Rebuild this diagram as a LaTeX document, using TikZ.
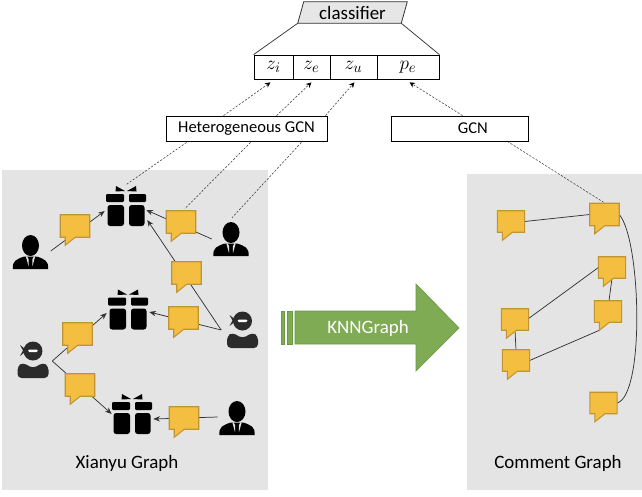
\documentclass[tikz,border=0pt]{standalone}
\usepackage{fontspec}
\setmainfont{Carlito}
\usetikzlibrary{calc,arrows.meta}
\pgfdeclarelayer{panels}
\pgfdeclarelayer{edges}
\pgfsetlayers{panels,edges,main}
\definecolor{panelgray}{HTML}{E4E4E4}
\definecolor{bubfill}{HTML}{F4BE41}
\definecolor{bubline}{HTML}{BE9437}
\definecolor{arrowgreen}{HTML}{7FAB55}
\definecolor{arrowline}{HTML}{6A9A44}
\definecolor{ninjagray}{HTML}{2B2B2B}
\definecolor{lidgray}{HTML}{E7E6E6}
\tikzset{
  panel/.style={fill=panelgray,draw=none},
  lab/.style={inner sep=0pt,font=\fontsize{14.2pt}{16pt}\selectfont},
  bigl/.style={lab},
  cellbox/.style={draw=black,line width=0.6pt,fill=white,inner sep=0pt,minimum height=18pt,font=\fontsize{15.5pt}{17pt}\selectfont},
  gcnbox/.style={draw=black,line width=0.6pt,fill=white,inner sep=0pt,minimum height=18.75pt,font=\fontsize{12.4pt}{14pt}\selectfont},
  bubA/.style={inner sep=0pt,minimum width=21.75pt,minimum height=16.5pt},
  bubB/.style={inner sep=0pt,minimum width=20pt,minimum height=15.75pt},
  bubbody/.style={fill=bubfill,draw=bubline,line width=0.8pt},
  iconbox/.style={inner sep=0pt,minimum width=27pt,minimum height=25.5pt},
  giftbox/.style={inner sep=0pt,minimum width=30pt,minimum height=30pt},
  link/.style={draw=black!80,line width=0.55pt},
  arr/.style={link,-{Stealth[length=5pt,width=4pt]}},
  dashline/.style={draw=black!80,line width=0.4pt,dash pattern=on 1.6pt off 1.2pt},
  dasharr/.style={dashline,-{Stealth[length=4pt,width=4pt,fill=black,color=black]}},
}
% speech bubble: name, x, y, style
\newcommand{\bub}[4]{%
  \node[#4] (#1) at (#2,#3) {};
  \draw[bubbody] (#1.north west) -- (#1.north east) -- (#1.south east)
    -- ($(#1.south west)+(15,0)$) -- ($(#1.south west)+(5,8)$) -- ($(#1.south west)+(5,0)$)
    -- (#1.south west) -- cycle;}
\newcommand{\gift}[3]{%
  \node[giftbox] (#1) at (#2,#3) {};
  \begin{scope}[shift={(#2,#3)}]
    \fill[black,rounded corners=0.8pt] (-20,-12) rectangle (-2,-4);
    \fill[black,rounded corners=0.8pt] (3,-12) rectangle (20,-4);
    \fill[black,rounded corners=2pt] (-18.5,-1) -- (-2,-1) -- (-2,5) -- (-2,20) -- (-18.5,20) -- cycle;
    \fill[black,rounded corners=2pt] (3,-1) -- (18.5,-1) -- (18.5,20) -- (3,20) -- cycle;
    \fill[black] (-10,-20) -- (-1,-15) -- (-10.5,-14.5) -- cycle;
    \fill[black] (10,-20) -- (1,-15) -- (10.5,-14.5) -- cycle;
  \end{scope}}
\newcommand{\person}[3]{%
  \node[iconbox] (#1) at (#2,#3) {};
  \begin{scope}[shift={(#2,#3)}]
    \fill[black] (0,-6.5) ellipse [x radius=8.5,y radius=10.5];
    \fill[black] (-17.5,17) .. controls (-18.5,9) and (-14,7) .. (-6,4.5) -- (6,4.5)
      .. controls (14,7) and (18.5,9) .. (17.5,17) -- cycle;
    \fill[panelgray] (-3.5,4) -- (-1.8,7.5) -- (-2,14) -- (-4.5,5) -- cycle;
    \fill[panelgray] (3.5,4) -- (1.8,7.5) -- (2,14) -- (4.5,5) -- cycle;
  \end{scope}}
\newcommand{\ninja}[3]{%
  \node[iconbox] (#1) at (#2,#3) {};
  \begin{scope}[shift={(#2,#3)}]
    \fill[ninjagray] (0,-9) circle [radius=9.5];
    \fill[ninjagray] (-13,-15) -- (-6,-9.5) -- (-13,-4) -- (-10,-9.5) -- cycle;
    \fill[white,rounded corners=1pt] (-5,-10.5) rectangle (5,-8);
    \fill[ninjagray,rounded corners=3pt] (-15.5,18) -- (-15.5,6) -- (-10,2.5) -- (0,8.5) -- (10,2.5) -- (15.5,6) -- (15.5,18) -- cycle;
  \end{scope}}
\begin{document}
\begin{tikzpicture}[x=0.75pt,y=-0.75pt]
\useasboundingbox (0,0) rectangle (642,496);
\begin{pgfonlayer}{panels}
  \fill[panel] (2,170) rectangle (268,490);
  \fill[panel] (467,174) rectangle (642,490);
\end{pgfonlayer}

% top
\node[inner sep=0pt,minimum width=77.25pt,minimum height=15.75pt] (cl) at (349.5,12.5) {};
\draw[fill=lidgray,draw=black!80,line width=0.6pt] (cl.south west) -- ($(cl.north west)+(6,0)$) -- ($(cl.north east)+(6,0)$) -- (cl.south east) -- cycle;
\node[lab] (cltext) at (352.5,12.5) {classifier};
\node[cellbox,minimum width=29.25pt] (zi) at (273.5,67) {$z_i$};
\node[cellbox,minimum width=27.75pt] (ze) at (311.5,67) {$z_e$};
\node[cellbox,minimum width=35.25pt] (zu) at (353.5,67) {$z_u$};
\node[cellbox,minimum width=46.5pt] (pe) at (408,67) {$p_e$};
\draw[link] (cl.south west) -- (zi.north west);
\draw[link] (cl.south east) -- (pe.north east);

\node[gcnbox,minimum width=120.75pt] (het) at (246.5,128.5) {Heterogeneous GCN};
\node[gcnbox,minimum width=102.75pt] (gcn) at (459.5,128.5) {\hspace*{20pt}GCN};

% left graph
\gift{g1}{126}{206}
\gift{g2}{128}{309.5}
\gift{g3}{132}{414}
\person{p1}{30.5}{252}
\person{p2}{231}{239}
\person{p3}{237}{418}
\ninja{n1}{242.5}{330}
\ninja{n2}{33}{360}
\bub{b1}{75}{226}{bubA}
\bub{b2}{181}{222}{bubA}
\bub{b3}{186.5}{273}{bubA}
\bub{b4}{183.5}{318}{bubA}
\bub{b5}{77.5}{334}{bubA}
\bub{b6}{80}{385}{bubA}
\bub{b7}{184}{418}{bubA}
\node[bigl] (xianyu) at (127,463) {Xianyu Graph};

% right graph
\bub{c1}{511}{221.5}{bubB}
\bub{c2}{604.5}{214.5}{bubA}
\bub{c3}{612}{267.5}{bubB}
\bub{c4}{608}{311.5}{bubB}
\bub{c5}{515}{319.5}{bubB}
\bub{c6}{516}{360.5}{bubB}
\bub{c7}{603.5}{403}{bubB}
\node[bigl] (comment) at (558,463) {Comment Graph};

% big arrow
\fill[arrowgreen,draw=arrowline,line width=0.5pt] (281,311) rectangle (284.5,344);
\fill[arrowgreen,draw=arrowline,line width=0.5pt] (287,311) rectangle (292.5,344);
\fill[arrowgreen,draw=arrowline,line width=0.5pt] (295,311) -- (416,311) -- (416,284) -- (459,328) -- (416,371) -- (416,344) -- (295,344) -- cycle;
\node[lab,text=white] (knn) at (368,328) {KNNGraph};

\begin{pgfonlayer}{edges}
  \draw[arr] ($(p1.east)+(2,-1)$) -- ($(g1.west)+(-1,5)$);
  \draw[arr] ($(p2.west)+(-1,0)$) -- ($(g1.east)+(0,4)$);
  \draw[arr] ($(n1.west)+(-3,0)$) -- ($(g1.east)+(1,14)$);
  \draw[arr] ($(n1.west)+(-3,0)$) -- ($(g2.east)+(1,2.5)$);
  \draw[arr] ($(n2.east)+(1,1)$) -- ($(g2.west)+(-1,3.5)$);
  \draw[arr] ($(n2.east)+(1,1)$) -- ($(g3.west)+(0,0)$);
  \draw[arr] ($(p3.west)+(-1,-1)$) -- ($(g3.east)+(1,5)$);
  \draw[dasharr] ($(het.north west)+(58,0)$) -- ($(zi.south east)+(-23,3)$);
  \draw[dasharr] ($(het.north west)+(111,0)$) -- ($(ze.south east)+(-19,3)$);
  \draw[dasharr] ($(het.north east)+(-2,0)$) -- ($(zu.south east)+(-23,3)$);
  \draw[dasharr] ($(gcn.north west)+(72,0)$) -- ($(pe.south west)+(33,3)$);
  \draw[dashline] ($(het.south west)+(21,1)$) -- ($(g1.north)+(0,-1)$);
  \draw[dashline] ($(het.south west)+(85,1)$) -- ($(b2.north east)+(-11,-2)$);
  \draw[dashline] ($(het.south east)+(-26,1)$) -- ($(p2.north)+(1,-4)$);
  \draw[dashline] ($(gcn.south east)+(-21,0)$) -- ($(c2.north)+(-1,-1)$);
  \draw[link] (c1.east) -- (c2.west);
  \draw[link] ($(c3.west)+(0,0)$) -- ($(c5.east)+(0,-1)$);
  \draw[link] ($(c3.south)+(0,0)$) -- ($(c4.north)+(1,0)$);
  \draw[link] ($(c5.south)+(0,0)$) -- ($(c6.north)+(0,0)$);
  \draw[link] ($(c6.east)+(0,0)$) -- ($(c4.south west)+(5,8)$);
  \draw[link] ($(c2.east)+(0,0)$) .. controls (641,240) and (645,395) .. (c7.east);
\end{pgfonlayer}
\end{tikzpicture}
\end{document}
